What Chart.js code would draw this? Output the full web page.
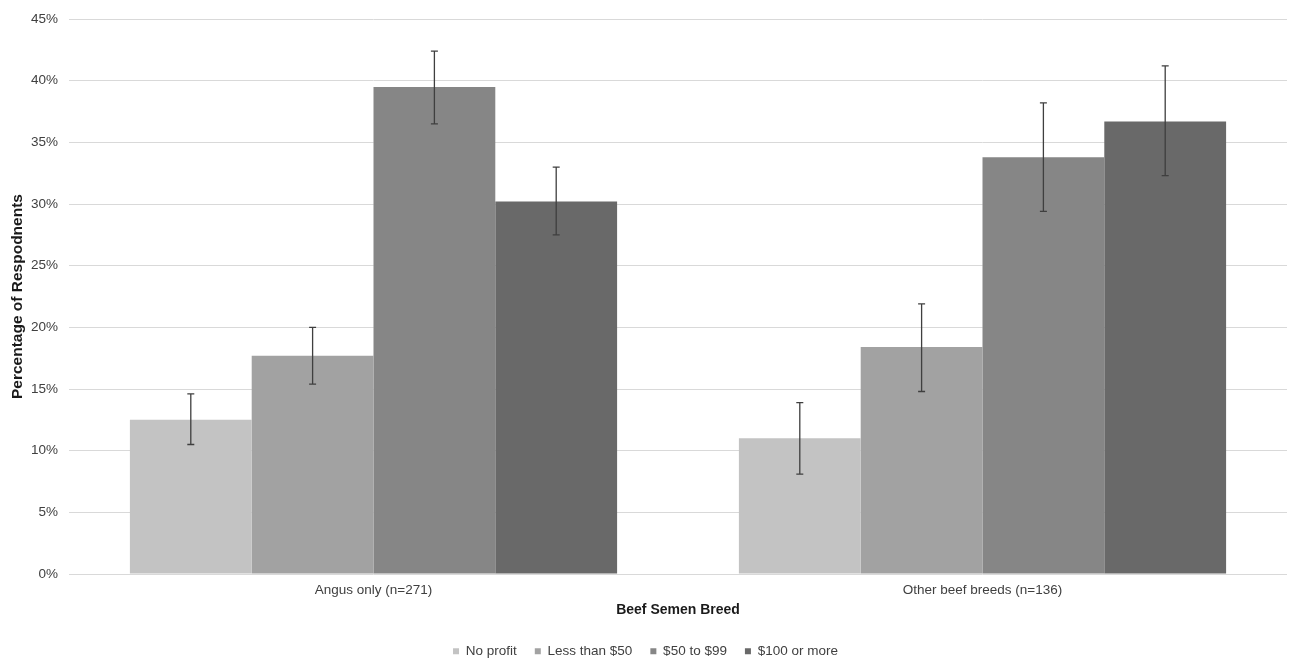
<!DOCTYPE html>
<html>
<head>
<meta charset="utf-8">
<script src="https://cdn.jsdelivr.net/npm/chart.js@4"></script>
<style>
  html, body { margin: 0; padding: 0; background: #fff; }
  #wrap { width: 1289px; height: 659px; }
</style>
</head>
<body>
<div id="wrap"><canvas id="chart"></canvas></div>
<script>
// categories and series (percent of respondents)
const categories = ['Angus only (n=271)', 'Other beef breeds (n=136)'];
const seriesNames = ['No profit', 'Less than $50', '$50 to $99', '$100 or more'];
const seriesColors = ['#c3c3c3', '#a2a2a2', '#868686', '#696969'];

const noProfit   = [12.5, 11.0];
const lessThan50 = [17.7, 18.4];
const from50to99 = [39.5, 33.8];
const over100    = [30.2, 36.7];

// error bar bounds (low, high)
const noProfitErr   = [[10.5, 14.6], [8.1, 13.9]];
const lessThan50Err = [[15.4, 20.0], [14.8, 21.9]];
const from50to99Err = [[36.5, 42.4], [29.4, 38.2]];
const over100Err    = [[27.5, 33.0], [32.3, 41.2]];

const yTicks = [0, 5, 10, 15, 20, 25, 30, 35, 40, 45];

const values = [noProfit, lessThan50, from50to99, over100];
const errors = [noProfitErr, lessThan50Err, from50to99Err, over100Err];

const FONT = 'Liberation Sans, Arial, sans-serif';

// draws the whiskers using the chart's own scales
const errorBars = {
    id: 'errorBars',
    afterDatasetsDraw(chart) {
        const ctx = chart.ctx;
        const y = chart.scales.y;
        ctx.save();
        ctx.strokeStyle = '#3f3f3f';
        ctx.lineWidth = 1.3;
        chart.data.datasets.forEach((ds, di) => {
            const meta = chart.getDatasetMeta(di);
            meta.data.forEach((bar, i) => {
                const e = ds.errs[i];
                const x = bar.x;
                const y0 = y.getPixelForValue(e[0]);
                const y1 = y.getPixelForValue(e[1]);
                ctx.beginPath();
                ctx.moveTo(x, y0); ctx.lineTo(x, y1);
                ctx.moveTo(x - 3.5, y0); ctx.lineTo(x + 3.5, y0);
                ctx.moveTo(x - 3.5, y1); ctx.lineTo(x + 3.5, y1);
                ctx.stroke();
            });
        });
        ctx.restore();
    }
};

const datasets = seriesNames.map((name, i) => ({
    label: name,
    data: values[i],
    errs: errors[i],
    backgroundColor: seriesColors[i],
    borderWidth: 0,
    categoryPercentage: 0.8,
    barPercentage: 1.0
}));

new Chart(document.getElementById('chart'), {
    type: 'bar',
    data: { labels: categories, datasets: datasets },
    plugins: [errorBars],
    options: {
        responsive: true,
        maintainAspectRatio: false,
        animation: false,
        layout: { padding: { top: 8, right: 2, left: 4, bottom: -9 } },
        plugins: {
            tooltip: { enabled: false },
            legend: {
                position: 'bottom',
                labels: {
                    boxWidth: 6, boxHeight: 6, padding: 18,
                    color: '#404040',
                    font: { family: FONT, size: 13.5 }
                }
            }
        },
        scales: {
            x: {
                grid: { display: false },
                border: { display: false },
                ticks: { color: '#404040', font: { family: FONT, size: 13.5 }, padding: 0 },
                title: {
                    display: true, text: 'Beef Semen Breed', color: '#1a1a1a',
                    font: { family: FONT, size: 14, weight: 'bold' }, padding: { top: 3.5, bottom: 8 }
                }
            },
            y: {
                min: 0, max: 45,
                afterBuildTicks: s => { s.ticks = yTicks.map(v => ({ value: v })); },
                afterFit: s => { s.width = 65; },
                grid: { color: '#d9d9d9', lineWidth: 1, drawTicks: false },
                border: { display: false },
                ticks: {
                    color: '#404040', padding: 11,
                    font: { family: FONT, size: 13.5 },
                    callback: v => v + '%'
                },
                title: {
                    display: true, text: 'Percentage of Respodnents', color: '#1a1a1a',
                    font: { family: FONT, size: 15.5, weight: 'bold' }, padding: { bottom: 0 }
                }
            }
        }
    }
});
</script>
</body>
</html>
